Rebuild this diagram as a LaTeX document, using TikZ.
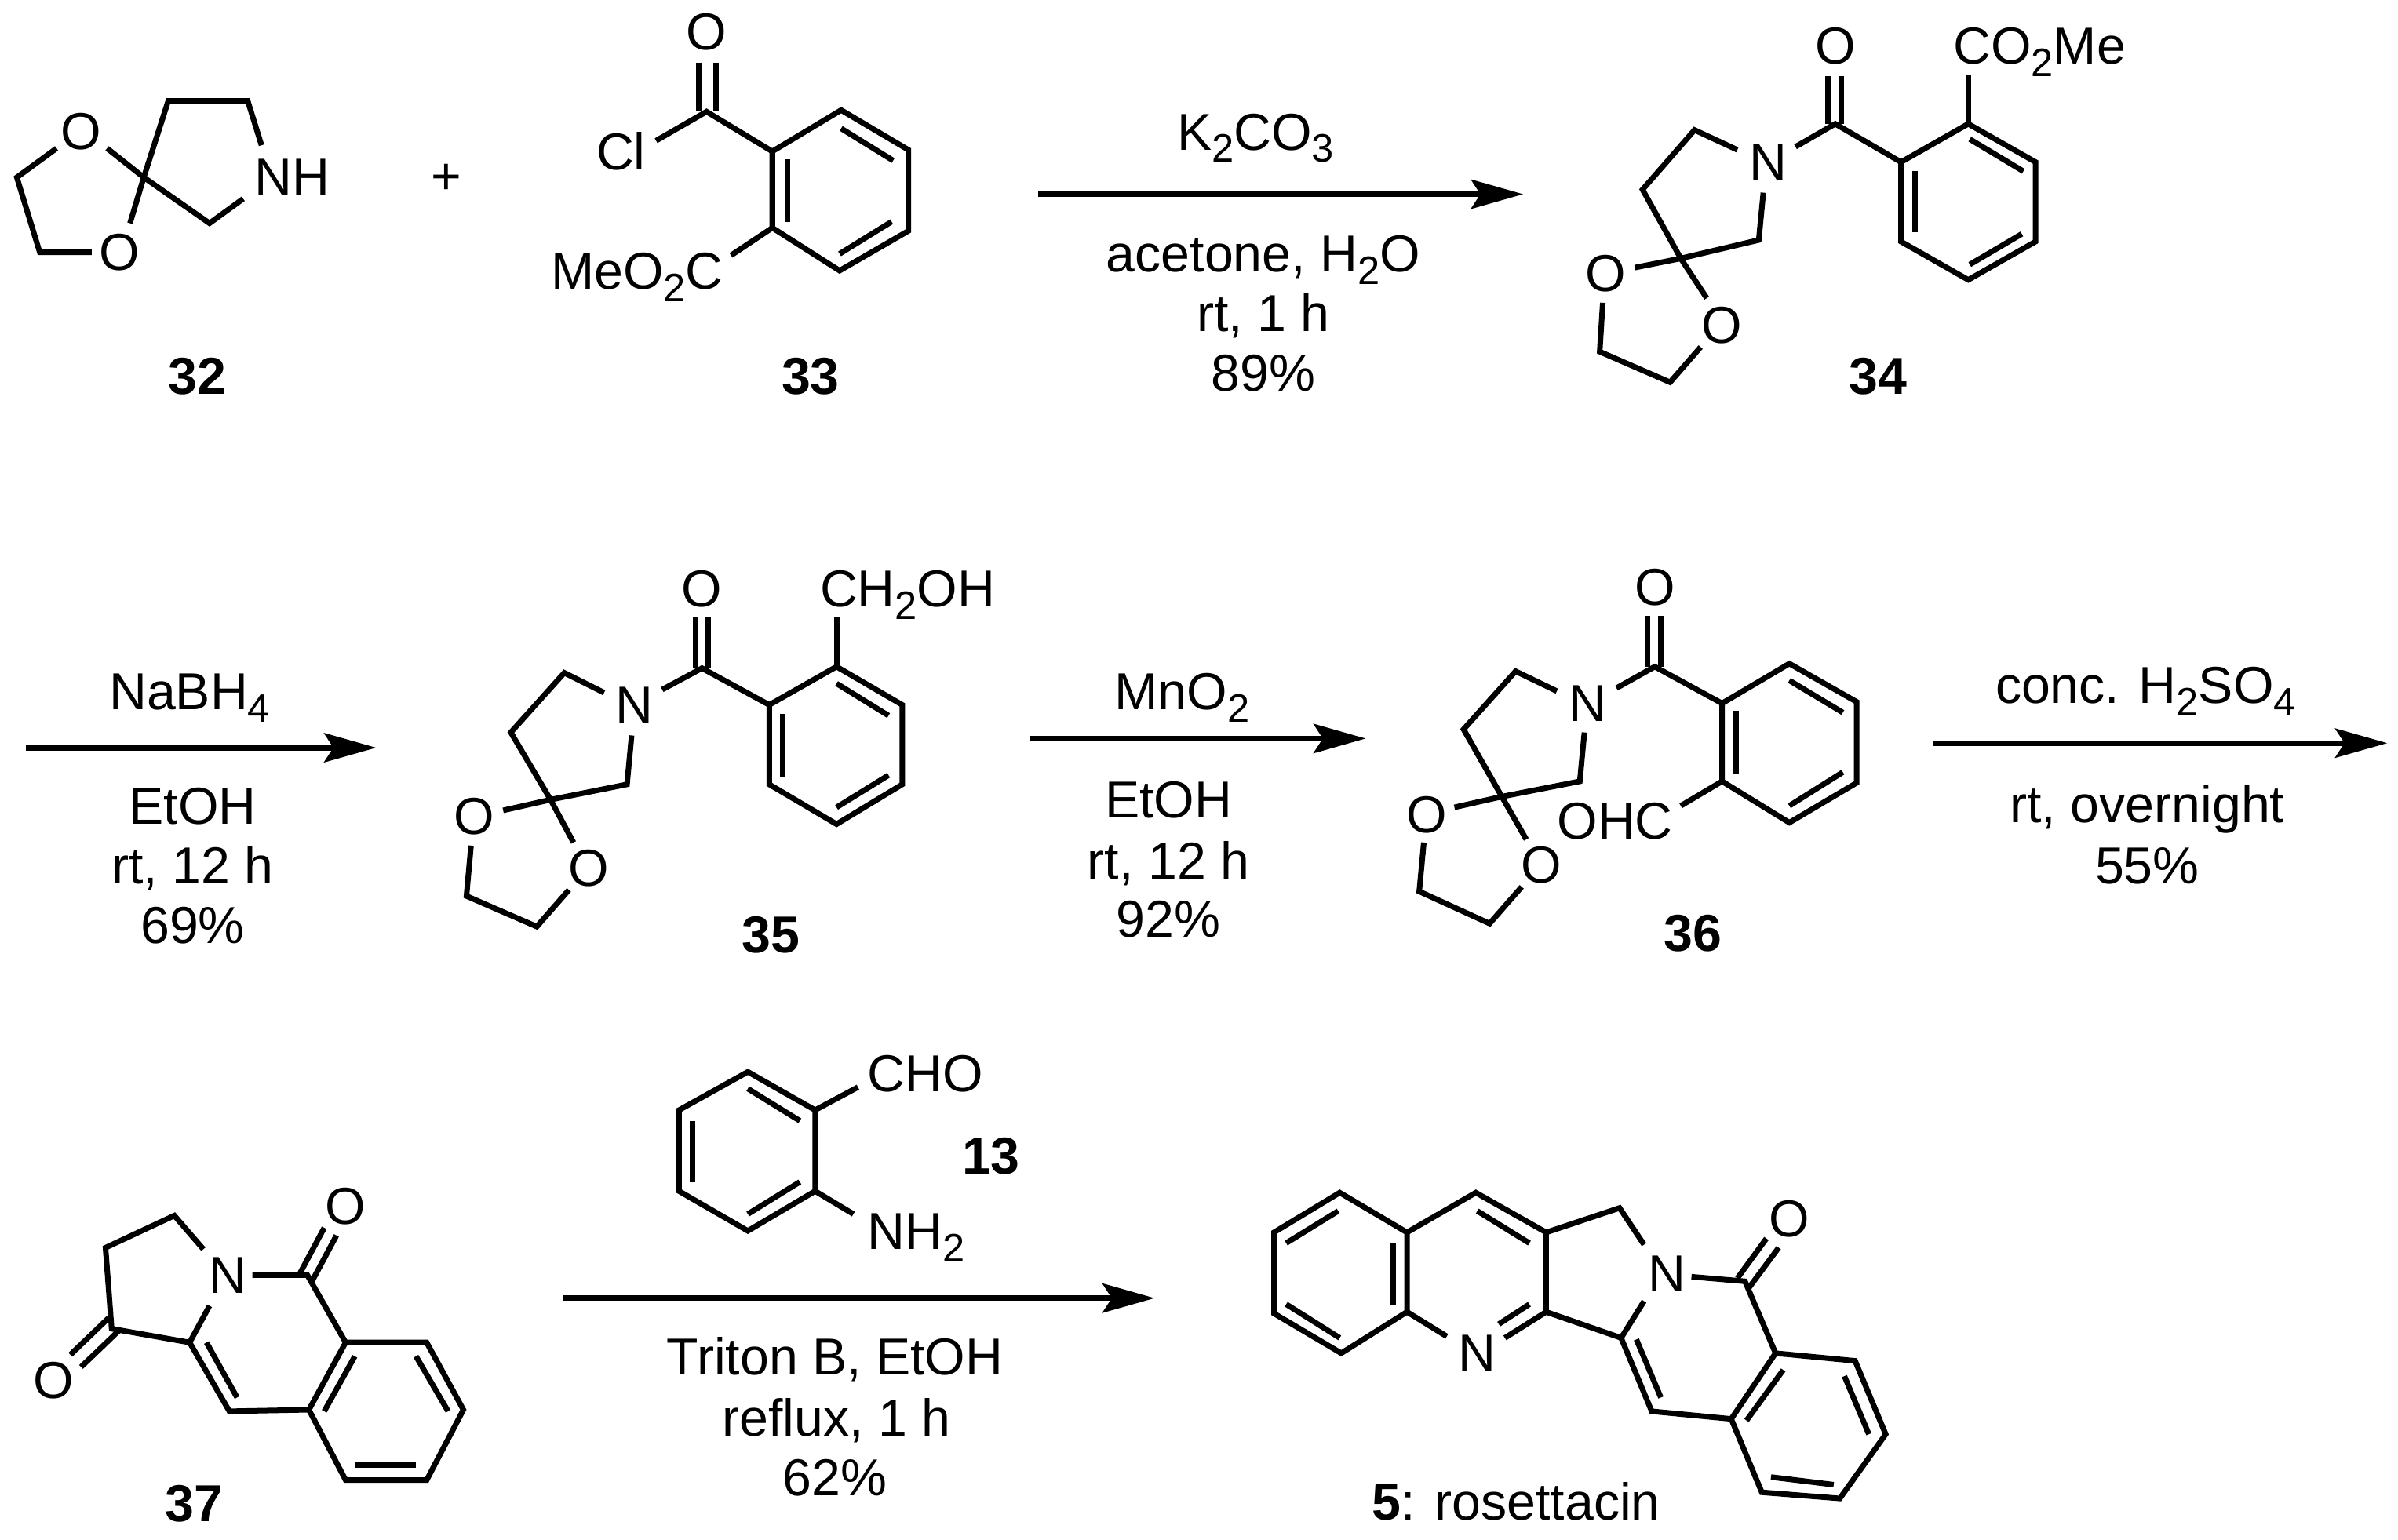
\documentclass[tikz,border=0pt]{standalone}
\usepackage{fontspec}
\setmainfont{Liberation Sans}
\usetikzlibrary{arrows.meta}
\newcommand{\chemsub}[1]{\raisebox{-0.24em}{\fontsize{26}{26}\selectfont #1}}
\tikzset{
  bond/.style={line width=3.6pt},
  rxn/.style={line width=3.8pt, -{Stealth[length=34pt, width=19pt, inset=6pt]}},
  atom/.style={inner sep=0pt},
  lbl/.style={inner sep=0pt, anchor=base},
  lblw/.style={inner sep=0pt, anchor=base west},
  cmpd/.style={inner sep=0pt, anchor=base, font=\fontsize{34}{38}\selectfont\bfseries}
}

\begin{document}
\begin{tikzpicture}[x=1pt, y=-1pt, font=\fontsize{34}{38}\selectfont]
\useasboundingbox (0, 0) rectangle (1568, 1007);
\fill[white] (0, 0) rectangle (1568, 1007);

% 32
\node[atom] (o32a) at (53, 86) {O};
\node[atom] (o32b) at (78, 165) {O};
\node[atom] (nh32) at (191, 116) {NH};
\node[cmpd] (n32) at (129, 258) {32};
\draw[bond] (37, 97) -- (11, 116) -- (26, 165) -- (60, 165);
\draw[bond] (70, 97) -- (94, 116) -- (85, 146);
\draw[bond] (94, 116) -- (110, 66) -- (162, 66) -- (171, 95);
\draw[bond] (94, 116) -- (137, 146) -- (159, 130);
\node[atom] (plus) at (292, 117) {+};

% 33
\node[atom] (o33) at (462, 21) {O};
\node[atom] (cl33) at (406, 99) {Cl};
\node[lblw] (me33) at (360, 189) {MeO\chemsub{2}C};
\node[cmpd] (n33) at (530, 258) {33};
\draw[bond] (457, 41) -- (457, 73);
\draw[bond] (468, 41) -- (468, 73);
\draw[bond] (429, 92) -- (462, 73) -- (505, 99);
\draw[bond] (505, 99) -- (550, 72) -- (594, 98) -- (594, 151) -- (549, 177) -- (505, 149) -- cycle;
\draw[bond] (515, 104) -- (515, 145);
\draw[bond] (550, 84) -- (584, 105);
\draw[bond] (583, 145) -- (549, 166);
\draw[bond] (505, 149) -- (478, 167);

% arrow 33 to 34
\coordinate (a1s) at (679, 127);
\coordinate (a1e) at (996, 127);
\draw[rxn] (a1s) -- (a1e);
\node[lbl] (k2co3) at (821, 98) {K\chemsub{2}CO\chemsub{3}};
\node[lbl] (acet) at (826, 178) {acetone, H\chemsub{2}O};
\node[lbl] (rt1) at (826, 217) {rt, 1 h};
\node[lbl] (y89) at (826, 256) {89\%};

% 34
\node[atom] (o34) at (1200, 30) {O};
\node[lblw] (co2me) at (1277, 42) {CO\chemsub{2}Me};
\node[atom] (n34) at (1156, 106) {N};
\node[atom] (o34a) at (1050, 179) {O};
\node[atom] (o34b) at (1126, 213) {O};
\node[cmpd] (l34) at (1228, 258) {34};
\draw[bond] (1195, 50) -- (1195, 81);
\draw[bond] (1204, 50) -- (1204, 81);
\draw[bond] (1174, 96) -- (1200, 81) -- (1243, 106);
\draw[bond] (1243, 106) -- (1287, 81) -- (1331, 106) -- (1331, 158) -- (1287, 183) -- (1243, 158) -- cycle;
\draw[bond] (1252, 112) -- (1252, 152);
\draw[bond] (1288, 91) -- (1323, 112);
\draw[bond] (1322, 153) -- (1288, 173);
\draw[bond] (1287, 81) -- (1287, 49);
\draw[bond] (1136, 98) -- (1108, 85) -- (1074, 124) -- (1099, 169) -- (1150, 157) -- (1153, 126);
\draw[bond] (1069, 175) -- (1099, 169) -- (1116, 195);
\draw[bond] (1048, 198) -- (1046, 230) -- (1092, 250) -- (1112, 227);

% arrow to 35
\coordinate (a2s) at (17, 489);
\coordinate (a2e) at (246, 489);
\draw[rxn] (a2s) -- (a2e);
\node[lbl] (nabh4) at (124, 464) {NaBH\chemsub{4}};
\node[lbl] (etoh2) at (126, 539) {EtOH};
\node[lbl] (rt2) at (126, 578) {rt, 12 h};
\node[lbl] (y69) at (126, 617) {69\%};

% 35
\node[atom] (o35) at (459, 385) {O};
\node[lblw] (ch2oh) at (536, 397) {CH\chemsub{2}OH};
\node[atom] (n35) at (415, 461) {N};
\node[atom] (o35a) at (310, 534) {O};
\node[atom] (o35b) at (385, 568) {O};
\node[cmpd] (l35) at (504, 623) {35};
\draw[bond] (455, 404) -- (455, 437);
\draw[bond] (463, 404) -- (463, 437);
\draw[bond] (433, 451) -- (459, 437) -- (503, 461);
\draw[bond] (503, 461) -- (547, 436) -- (590, 461) -- (590, 513) -- (547, 539) -- (503, 513) -- cycle;
\draw[bond] (512, 467) -- (512, 508);
\draw[bond] (547, 447) -- (581, 468);
\draw[bond] (581, 507) -- (547, 528);
\draw[bond] (547, 436) -- (547, 404);
\draw[bond] (395, 453) -- (369, 440) -- (334, 479) -- (360, 523) -- (410, 513) -- (413, 481);
\draw[bond] (329, 530) -- (360, 523) -- (375, 551);
\draw[bond] (308, 553) -- (305, 586) -- (351, 606) -- (372, 582);

% arrow to 36
\coordinate (a3s) at (673, 483);
\coordinate (a3e) at (893, 483);
\draw[rxn] (a3s) -- (a3e);
\node[lbl] (mno2) at (773, 464) {MnO\chemsub{2}};
\node[lbl] (etoh3) at (764, 535) {EtOH};
\node[lbl] (rt3) at (764, 575) {rt, 12 h};
\node[lbl] (y92) at (764, 613) {92\%};

% 36
\node[atom] (o36) at (1082, 384) {O};
\node[atom] (ohc) at (1056, 537) {OHC};
\node[atom] (n36) at (1038, 460) {N};
\node[atom] (o36a) at (933, 533) {O};
\node[atom] (o36b) at (1008, 566) {O};
\node[cmpd] (l36) at (1107, 622) {36};
\draw[bond] (1077, 403) -- (1077, 436);
\draw[bond] (1086, 403) -- (1086, 436);
\draw[bond] (1057, 450) -- (1082, 436) -- (1126, 460);
\draw[bond] (1126, 460) -- (1170, 434) -- (1214, 459) -- (1214, 512) -- (1170, 538) -- (1126, 511) -- cycle;
\draw[bond] (1135, 465) -- (1135, 506);
\draw[bond] (1170, 445) -- (1205, 466);
\draw[bond] (1205, 505) -- (1170, 527);
\draw[bond] (1126, 511) -- (1099, 527);
\draw[bond] (1018, 452) -- (991, 439) -- (957, 477) -- (982, 521) -- (1033, 511) -- (1036, 479);
\draw[bond] (951, 528) -- (982, 521) -- (998, 549);
\draw[bond] (931, 551) -- (928, 583) -- (974, 604) -- (995, 580);

% arrow to 37
\coordinate (a4s) at (1264, 486);
\coordinate (a4e) at (1561, 486);
\draw[rxn] (a4s) -- (a4e);
\node[lbl] (h2so4) at (1403, 460) {conc. H\chemsub{2}SO\chemsub{4}};
\node[lbl] (rt4) at (1404, 538) {rt, overnight};
\node[lbl] (y55) at (1404, 578) {55\%};

% 37
\node[atom] (n37) at (149, 834) {N};
\node[atom] (o37a) at (35, 903) {O};
\node[atom] (o37b) at (226, 789) {O};
\node[cmpd] (l37) at (127, 995) {37};
\draw[bond] (133, 817) -- (114, 795) -- (69, 816) -- (73, 869) -- (124, 878) -- (137, 854);
\draw[bond] (71, 862) -- (46, 886);
\draw[bond] (78, 870) -- (53, 894);
\draw[bond] (165, 834) -- (201, 834) -- (226, 878);
\draw[bond] (196, 833) -- (212, 803);
\draw[bond] (204, 838) -- (220, 808);
\draw[bond] (226, 878) -- (279, 878) -- (303, 922) -- (279, 968) -- (226, 968) -- (202, 922) -- cycle;
\draw[bond] (202, 922) -- (150, 923) -- (124, 878);
\draw[bond] (135, 878) -- (155, 914);
\draw[bond] (232, 887) -- (212, 923);
\draw[bond] (272, 887) -- (293, 923);
\draw[bond] (232, 958) -- (272, 958);

% 13
\node[lblw] (cho) at (567, 714) {CHO};
\node[lblw] (nh2) at (567, 817) {NH\chemsub{2}};
\node[cmpd] (l13) at (648, 768) {13};
\draw[bond] (533, 726) -- (489, 701) -- (444, 726) -- (444, 779) -- (489, 805) -- (533, 779) -- cycle;
\draw[bond] (489, 712) -- (523, 733);
\draw[bond] (453, 733) -- (453, 773);
\draw[bond] (523, 773) -- (489, 794);
\draw[bond] (533, 726) -- (561, 711);
\draw[bond] (533, 779) -- (558, 794);

% arrow to 5
\coordinate (a5s) at (368, 849);
\coordinate (a5e) at (755, 849);
\draw[rxn] (a5s) -- (a5e);
\node[lbl] (triton) at (546, 899) {Triton B, EtOH};
\node[lbl] (refl) at (547, 939) {reflux, 1 h};
\node[lbl] (y62) at (546, 978) {62\%};

% 5
\node[atom] (n5a) at (966, 885) {N};
\node[atom] (n5b) at (1090, 833) {N};
\node[atom] (o5) at (1170, 797) {O};
\node[lblw] (ros) at (897, 994) {\textbf{5}: rosettacin};
\draw[bond] (833, 806) -- (876, 780) -- (920, 806) -- (920, 858) -- (877, 885) -- (833, 859) -- cycle;
\draw[bond] (875, 792) -- (841, 813);
\draw[bond] (841, 853) -- (876, 875);
\draw[bond] (911, 813) -- (911, 854);
\draw[bond] (920, 806) -- (965, 780) -- (1011, 806) -- (1011, 858) -- (984, 875);
\draw[bond] (920, 858) -- (946, 874);
\draw[bond] (966, 792) -- (1000, 813);
\draw[bond] (1000, 853) -- (980, 866);
\draw[bond] (1011, 806) -- (1059, 790) -- (1075, 814);
\draw[bond] (1011, 858) -- (1060, 875) -- (1075, 851);
\draw[bond] (1106, 835) -- (1141, 838) -- (1161, 885);
\draw[bond] (1136, 836) -- (1155, 810);
\draw[bond] (1143, 843) -- (1163, 816);
\draw[bond] (1161, 885) -- (1213, 890) -- (1233, 938) -- (1203, 980) -- (1152, 976) -- (1132, 928) -- cycle;
\draw[bond] (1132, 928) -- (1080, 923) -- (1060, 875);
\draw[bond] (1070, 876) -- (1086, 914);
\draw[bond] (1166, 896) -- (1142, 929);
\draw[bond] (1206, 900) -- (1222, 938);
\draw[bond] (1158, 966) -- (1199, 971);
\end{tikzpicture}
\end{document}
